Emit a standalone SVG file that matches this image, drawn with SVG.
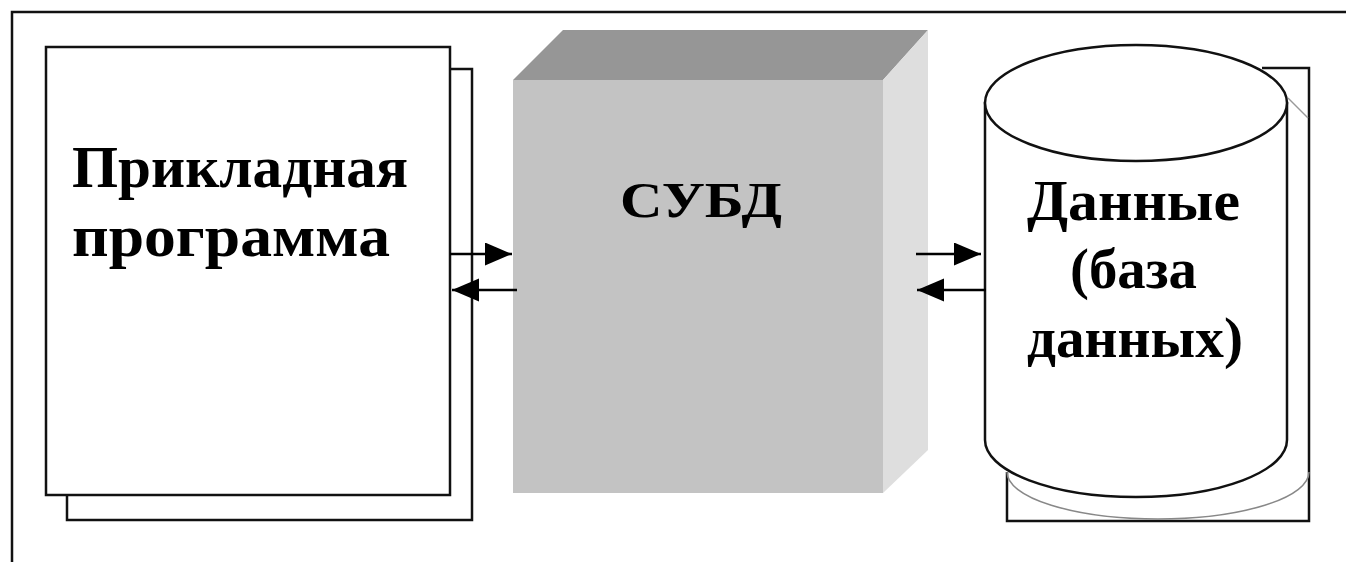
<svg xmlns="http://www.w3.org/2000/svg" width="1346" height="562" viewBox="0 0 1346 562">
  <style>
    .ln { fill: #fff; stroke: #111; stroke-width: 2.5; }
    .lbl { font-family: "Liberation Serif", "Times New Roman", serif; font-weight: bold; fill: #000; }
    .conn { stroke: #000; stroke-width: 2.5; fill: none; marker-end: url(#head); }
  </style>
  <defs>
    <marker id="head" markerUnits="userSpaceOnUse" markerWidth="28" markerHeight="24" refX="27" refY="11.5" orient="auto">
      <path d="M0,0 L27,11.5 L0,23 z" fill="#000"/>
    </marker>
  </defs>

  <rect width="1346" height="562" fill="#fff"/>

  <!-- outer frame -->
  <rect x="12" y="12" width="1400" height="620" fill="none" stroke="#111" stroke-width="2.5"/>

  <!-- application program: stacked sheets -->
  <g id="app">
    <rect class="ln" x="67" y="69" width="405" height="451"/>
    <rect class="ln" x="46" y="47" width="404" height="448"/>
    <text class="lbl" font-size="60" x="72" y="187" textLength="336" lengthAdjust="spacingAndGlyphs">Прикладная</text>
    <text class="lbl" font-size="60" x="72" y="256" textLength="318" lengthAdjust="spacingAndGlyphs">программа</text>
  </g>

  <!-- DBMS: shaded block -->
  <g id="dbms">
    <polygon points="513,80 563,30 928,30 883,80" fill="#969696"/>
    <polygon points="883,80 928,30 928,450 883,493" fill="#dedede"/>
    <rect x="513" y="80" width="370" height="413" fill="#c3c3c3"/>
    <text class="lbl" font-size="50" x="620" y="217" textLength="162" lengthAdjust="spacingAndGlyphs">СУБД</text>
  </g>

  <!-- data: cylinder over a back frame -->
  <g id="data">
    <path d="M1262,68 L1309,68 L1309,521 L1007,521 L1007,472" fill="#fff" stroke="#111" stroke-width="2.5"/>
    <path d="M1007,472 A151,47 0 0 0 1309,472" fill="none" stroke="#888" stroke-width="1.5"/>
    <line x1="1288" y1="98" x2="1308" y2="118" stroke="#999" stroke-width="1.5"/>
    <path class="ln" d="M985,103 L985,440 A151,57 0 0 0 1287,440 L1287,103 Z"/>
    <ellipse class="ln" cx="1136" cy="103" rx="151" ry="58"/>
    <text class="lbl" font-size="58" x="1027" y="220" textLength="213" lengthAdjust="spacingAndGlyphs">Данные</text>
    <text class="lbl" font-size="58" x="1070" y="288" textLength="127" lengthAdjust="spacingAndGlyphs">(база</text>
    <text class="lbl" font-size="58" x="1027" y="357" textLength="216" lengthAdjust="spacingAndGlyphs">данных)</text>
  </g>

  <!-- request / response arrows -->
  <g id="connectors">
    <line class="conn" x1="450" y1="254" x2="512" y2="254"/>
    <line class="conn" x1="517" y1="290" x2="452" y2="290"/>
    <line class="conn" x1="916" y1="254" x2="981" y2="254"/>
    <line class="conn" x1="986" y1="290" x2="917" y2="290"/>
  </g>
</svg>
